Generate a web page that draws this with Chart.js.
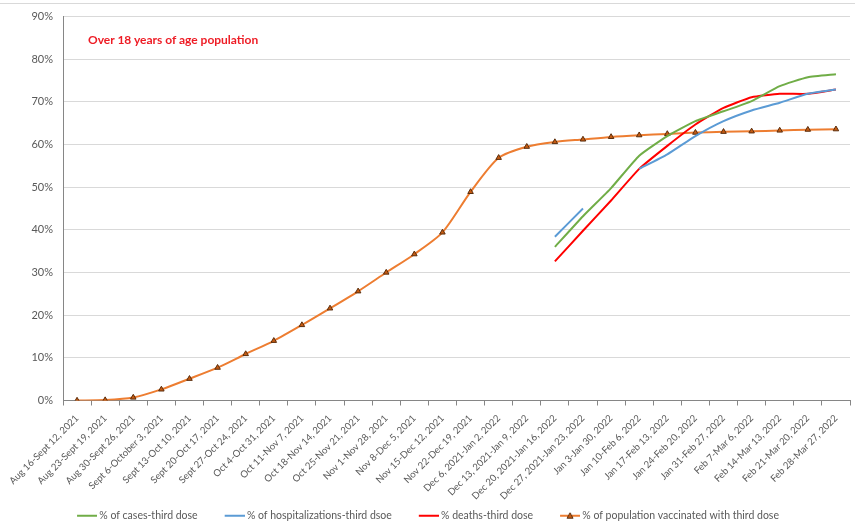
<!DOCTYPE html>
<html>
<head>
<meta charset="utf-8">
<script src="https://cdn.jsdelivr.net/npm/chart.js@4.4.1/dist/chart.umd.min.js"></script>
<style>
  html, body { margin: 0; padding: 0; background: #fff; }
  #wrap { position: relative; width: 855px; height: 531px; }
  #topline { position: absolute; left: 0; top: 3px; width: 855px; height: 1px; background: #d9d9d9; }
  #note { position: absolute; left: 88px; top: 32px; font: bold 12px Lato, "Open Sans", sans-serif; color: #ee1c25; }
</style>
</head>
<body>
<div id="wrap">
  <canvas id="c" width="855" height="531"></canvas>
  <div id="topline"></div>
  <div id="note">Over 18 years of age population</div>
</div>
<script>
const categories = [
  "Aug 16-Sept 12, 2021", "Aug 23-Sept 19, 2021", "Aug 30-Sept 26, 2021", "Sept 6-October 3, 2021",
  "Sept 13-Oct 10, 2021", "Sept 20-Oct 17, 2021", "Sept 27-Oct 24, 2021", "Oct 4-Oct 31, 2021",
  "Oct 11-Nov 7, 2021", "Oct 18-Nov 14, 2021", "Oct 25-Nov 21, 2021", "Nov 1-Nov 28, 2021",
  "Nov 8-Dec 5, 2021", "Nov 15-Dec 12, 2021", "Nov 22-Dec 19, 2021", "Dec 6, 2021-Jan 2, 2022",
  "Dec 13, 2021-Jan 9, 2022", "Dec 20, 2021-Jan 16, 2022", "Dec 27, 2021-Jan 23, 2022", "Jan 3-Jan 30, 2022",
  "Jan 10-Feb 6, 2022", "Jan 17-Feb 13, 2022", "Jan 24-Feb 20, 2022", "Jan 31-Feb 27, 2022",
  "Feb 7-Mar 6, 2022", "Feb 14-Mar 13, 2022", "Feb 21-Mar 20, 2022", "Feb 28-Mar 27, 2022"
];
const casesThirdDose = [null,null,null,null,null,null,null,null,null,null,null,null,null,null,null,null,null,
  36.0, 43.2, 49.8, 57.4, 62.0, 65.5, 67.8, 70.2, 73.7, 75.8, 76.5];
const hospThirdDose = [null,null,null,null,null,null,null,null,null,null,null,null,null,null,null,null,null,
  38.4, 45.0, null, 54.3, 57.7, 62.0, 65.5, 68.0, 69.8, 71.9, 72.9];
const deathsThirdDose = [null,null,null,null,null,null,null,null,null,null,null,null,null,null,null,null,null,
  32.6, 39.8, 46.9, 54.3, 59.7, 64.7, 68.6, 71.1, 71.9, 71.9, 72.9];
const vaccinatedThirdDose = [0, 0.1, 0.7, 2.6, 5.1, 7.7, 10.9, 14.0, 17.7, 21.6, 25.6, 30.0, 34.3, 39.4,
  48.9, 56.9, 59.5, 60.6, 61.2, 61.8, 62.2, 62.5, 62.8, 63.0, 63.1, 63.3, 63.5, 63.6];
const seriesNames = ["% of cases-third dose", "% of hospitalizations-third dsoe", "% deaths-third dose", "% of population vaccinated with third dose"];
const yTicks = [0, 10, 20, 30, 40, 50, 60, 70, 80, 90];

const colors = ["#70ad47", "#5b9bd5", "#ff0000", "#ed7d31"];

function legendIcon(color, marker) {
  const cv = document.createElement('canvas');
  cv.width = 26; cv.height = 10;
  const g = cv.getContext('2d');
  g.strokeStyle = color; g.lineWidth = 2;
  g.beginPath(); g.moveTo(6, 5); g.lineTo(26, 5); g.stroke();
  if (marker) {
    g.fillStyle = '#c55a11'; g.strokeStyle = '#5a2d0c'; g.lineWidth = 1;
    g.beginPath(); g.moveTo(16, 2); g.lineTo(19, 7.5); g.lineTo(13, 7.5); g.closePath(); g.fill(); g.stroke();
  }
  return cv;
}

const fam = "Lato, 'Open Sans', sans-serif";

new Chart(document.getElementById('c'), {
  type: 'line',
  data: {
    labels: categories,
    datasets: [
      { label: seriesNames[0], data: casesThirdDose, borderColor: colors[0], backgroundColor: colors[0], borderWidth: 2, pointRadius: 0, tension: 0.15, spanGaps: false },
      { label: seriesNames[1], data: hospThirdDose, borderColor: colors[1], backgroundColor: colors[1], borderWidth: 2, pointRadius: 0, tension: 0.15, spanGaps: false },
      { label: seriesNames[2], data: deathsThirdDose, borderColor: colors[2], backgroundColor: colors[2], borderWidth: 2, pointRadius: 0, tension: 0.15, spanGaps: false },
      { label: seriesNames[3], data: vaccinatedThirdDose, borderColor: colors[3], backgroundColor: '#c55a11', borderWidth: 2, tension: 0.25,
        pointStyle: 'triangle', pointRadius: 3.2, pointBorderColor: '#5a2d0c', pointBackgroundColor: '#c55a11', pointBorderWidth: 1 }
    ]
  },
  options: {
    responsive: false,
    animation: false,
    layout: { padding: { top: 13, right: 2, left: 0, bottom: 0 } },
    plugins: {
      tooltip: { enabled: false },
      legend: {
        position: 'bottom',
        labels: {
          color: '#595959',
          font: { family: fam, size: 10.5, lineHeight: 1 },
          usePointStyle: true,
          pointStyleWidth: 20,
          padding: 24,
          generateLabels(chart) {
            return chart.data.datasets.map((ds, i) => ({
              text: ds.label,
              fontColor: '#595959',
              pointStyle: legendIcon(colors[i], i === 3),
              strokeStyle: ds.borderColor,
              fillStyle: ds.borderColor,
              lineWidth: 0,
              hidden: false,
              datasetIndex: i
            }));
          }
        }
      }
    },
    scales: {
      x: {
        offset: true,
        grid: { display: true, drawOnChartArea: false, offset: true, color: '#868686', tickLength: 5 },
        border: { color: '#868686', width: 1 },
        ticks: { autoSkip: false, minRotation: 45, maxRotation: 45, color: '#595959', font: { family: fam, size: 9.6 }, padding: 7 },
        afterFit(s) { s.height = 86; s._computeLabelArea = () => undefined; }
      },
      y: {
        min: 0, max: 90,
        afterBuildTicks(s) { s.ticks = yTicks.map(v => ({ value: v })); },
        grid: { color: '#d9d9d9', drawTicks: false },
        border: { color: '#868686', width: 1 },
        ticks: { color: '#595959', font: { family: fam, size: 11 }, padding: 10, callback: v => v + '%' },
        afterFit(s) { s.width = 63; }
      }
    }
  }
});
</script>
</body>
</html>
